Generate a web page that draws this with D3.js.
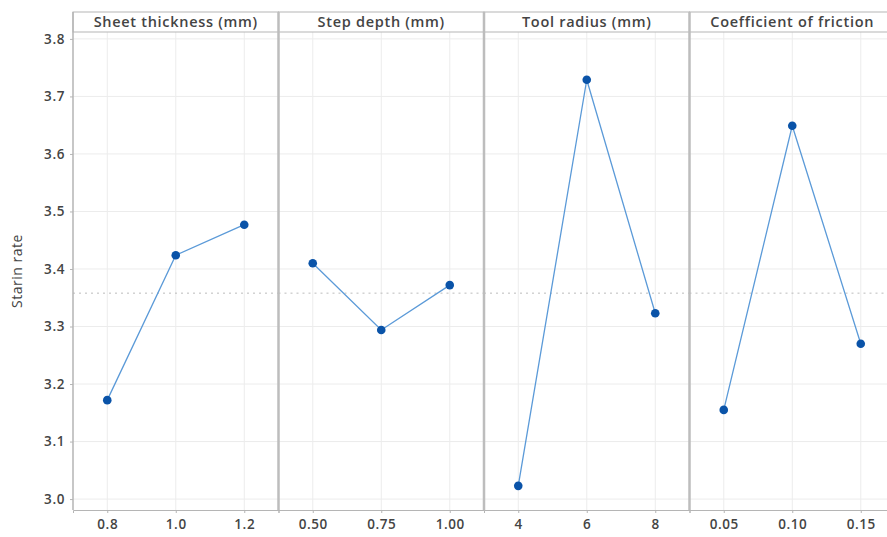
<!DOCTYPE html>
<html>
<head>
<meta charset="utf-8">
<script src="https://cdn.jsdelivr.net/npm/d3@7"></script>
<style>
  body { margin: 0; background: #fff; }
  svg { display: block; font-family: "Open Sans", sans-serif; }
  .tick text { fill: #444; font-weight: 600; font-size: 13.5px; letter-spacing: 0.6px; font-family: "Open Sans", sans-serif; }
  .header text { fill: #444; font-weight: 600; font-size: 14.5px; letter-spacing: 0.7px; }
</style>
</head>
<body>
<svg width="887" height="537"></svg>
<script>
// factors and their levels
var factorNames = ['Sheet thickness (mm)', 'Step depth (mm)', 'Tool radius (mm)', 'Coefficient of friction'];
var levelLabels = [
    ['0.8', '1.0', '1.2'],
    ['0.50', '0.75', '1.00'],
    ['4', '6', '8'],
    ['0.05', '0.10', '0.15']
];
// mean strain rate at each level
var meanValues = [
    [3.172, 3.424, 3.477],
    [3.410, 3.294, 3.372],
    [3.023, 3.729, 3.323],
    [3.155, 3.649, 3.270]
];
var overallMean = 3.358;
var yTicks = [3.0, 3.1, 3.2, 3.3, 3.4, 3.5, 3.6, 3.7, 3.8];

var svg = d3.select('svg');
var marginLeft = 73, stripTop = 12, headerH = 20, axisY = 510, panelW = 205.5;

var y = d3.scaleLinear()
    .domain([2.981, 3.812])
    .range([axisY, stripTop + headerH]);

var GRID = '#ececec', FRAME = '#b5b5b5';

// y label
svg.append('text')
    .attr('transform', 'translate(22,' + ((stripTop + headerH + axisY) / 2) + ') rotate(-90)')
    .attr('text-anchor', 'middle')
    .style('font-size', '14px')
    .style('letter-spacing', '0.5px')
    .style('fill', '#444')
    .text('Starin rate');

factorNames.forEach(function (name, i) {
    var x0 = marginLeft + i * panelW;
    var g = svg.append('g').attr('transform', 'translate(' + x0 + ',0)');

    var x = d3.scalePoint()
        .domain(levelLabels[i])
        .range([0, panelW])
        .padding(0.5);

    // horizontal grid
    g.selectAll('.hgrid').data(yTicks).enter().append('line')
        .attr('x1', 0).attr('x2', panelW)
        .attr('y1', function (d) { return y(d); })
        .attr('y2', function (d) { return y(d); })
        .attr('stroke', GRID);

    // vertical grid
    g.selectAll('.vgrid').data(levelLabels[i]).enter().append('line')
        .attr('x1', function (d) { return x(d); })
        .attr('x2', function (d) { return x(d); })
        .attr('y1', stripTop + headerH).attr('y2', axisY)
        .attr('stroke', GRID);

    // mean reference line
    g.append('line')
        .attr('x1', 0).attr('x2', panelW)
        .attr('y1', y(overallMean)).attr('y2', y(overallMean))
        .attr('stroke', '#bbb')
        .attr('stroke-dasharray', '2,4');

    // header strip
    var header = g.append('g').attr('class', 'header');
    header.append('rect')
        .attr('x', 0).attr('y', stripTop)
        .attr('width', panelW).attr('height', headerH)
        .attr('fill', '#fff')
        .attr('stroke', FRAME);
    header.append('text')
        .attr('x', panelW / 2).attr('y', stripTop + 14.5)
        .attr('text-anchor', 'middle')
        .text(name);

    // bottom axis
    var xAxis = g.append('g')
        .attr('transform', 'translate(0,' + axisY + ')')
        .call(d3.axisBottom(x).tickSize(3).tickPadding(6));
    xAxis.select('.domain').attr('stroke', FRAME);
    xAxis.selectAll('.tick line').attr('stroke', FRAME);

    // panel separator
    if (i > 0) {
        g.append('line')
            .attr('x1', 0).attr('x2', 0)
            .attr('y1', stripTop).attr('y2', axisY)
            .attr('stroke', '#bdbdbd')
            .attr('stroke-width', 2.5);
    }

    var pts = levelLabels[i].map(function (lab, j) { return [lab, meanValues[i][j]]; });

    var line = d3.line()
        .x(function (d) { return x(d[0]); })
        .y(function (d) { return y(d[1]); });

    g.append('path')
        .datum(pts)
        .attr('d', line)
        .attr('fill', 'none')
        .attr('stroke', '#5b9ad8')
        .attr('stroke-width', 1.3);

    g.selectAll('.pt').data(pts).enter().append('circle')
        .attr('cx', function (d) { return x(d[0]); })
        .attr('cy', function (d) { return y(d[1]); })
        .attr('r', 4.3)
        .attr('fill', '#0a53a8');
});

// left axis
var yAxis = svg.append('g')
    .attr('transform', 'translate(' + marginLeft + ',0)')
    .call(d3.axisLeft(y).tickValues(yTicks).tickFormat(d3.format('.1f')).tickSize(3).tickPadding(5));
yAxis.select('.domain').remove();
yAxis.selectAll('.tick line').attr('stroke', FRAME);
svg.append('line')
    .attr('x1', marginLeft).attr('x2', marginLeft)
    .attr('y1', stripTop).attr('y2', axisY)
    .attr('stroke', FRAME).attr('stroke-width', 1.5);
</script>
</body>
</html>
